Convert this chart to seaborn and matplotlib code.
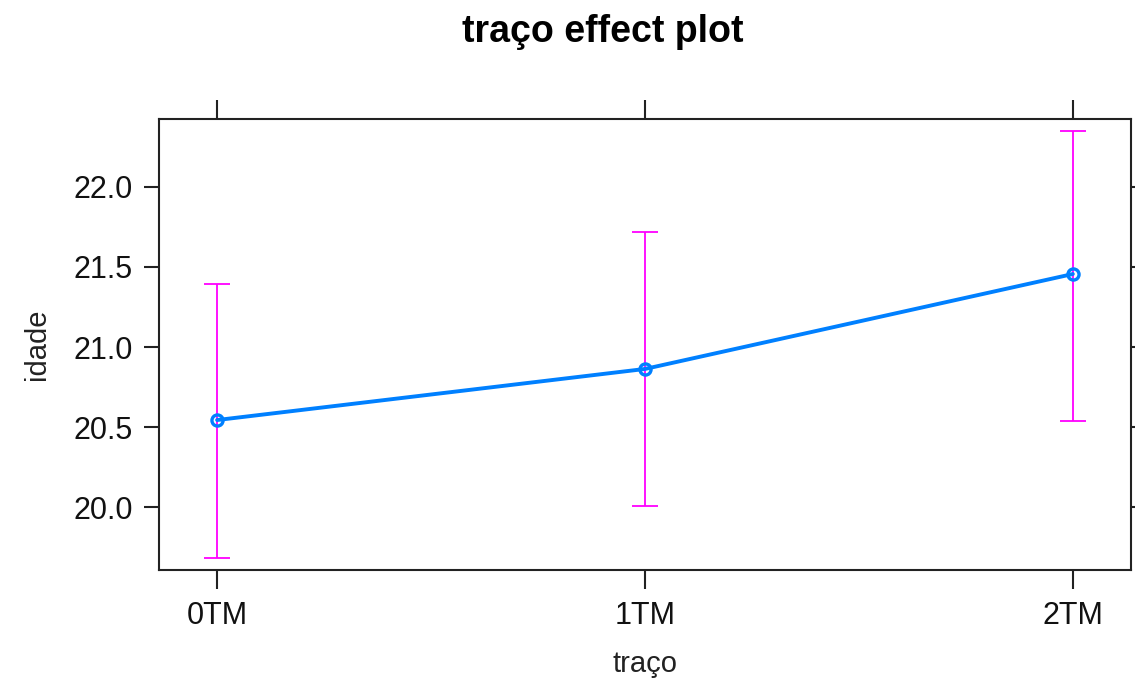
import matplotlib
matplotlib.use("Agg")
import matplotlib.pyplot as plt
import seaborn as sns
import pandas as pd

traco = ["0TM", "1TM", "2TM"]
fit = [20.544, 20.863, 21.456]
lower = [19.68, 20.01, 20.54]
upper = [21.394, 21.72, 22.35]

df = pd.DataFrame({"traco": traco, "fit": fit, "lower": lower, "upper": upper})
df["pos"] = range(len(df))

sns.set_style("ticks")
plt.rcParams["font.family"] = ["Liberation Sans", "DejaVu Sans"]

fig = plt.figure(figsize=(11.35, 6.86), dpi=100)
ax = fig.add_axes([0.140, 0.169, 0.8565, 0.6575])

# confidence bars
ax.errorbar(df["pos"], df["fit"],
            yerr=[df["fit"] - df["lower"], df["upper"] - df["fit"]],
            fmt="none", ecolor="#FF00FF", elinewidth=1.3, capsize=9.7, capthick=1.3)

sns.lineplot(data=df, x="pos", y="fit", ax=ax, color="#0080FF", linewidth=2.8,
             marker="o", markersize=8, markerfacecolor="none",
             markeredgecolor="#0080FF", markeredgewidth=2.4)

ax.set_xlim(-0.136, 2.136)
ax.set_ylim(19.607, 22.424)
ax.set_xticks(df["pos"])
ax.set_xticklabels(traco)
ax.set_yticks([20.0, 20.5, 21.0, 21.5, 22.0])
ax.set_yticklabels(["20.0", "20.5", "21.0", "21.5", "22.0"])

ax.tick_params(axis="both", direction="out", length=11, width=1.5, colors="#222222",
               labelsize=22, labelcolor="#111111", pad=8)
ax.tick_params(top=True, right=True, labeltop=False, labelright=False)
ax.tick_params(axis="x", length=14)
for s in ax.spines.values():
    s.set_visible(True)
    s.set_linewidth(1.5)
    s.set_color("#222222")

ax.set_xlabel("traço", fontsize=21, color="#222222", labelpad=14)
ax.set_ylabel("idade", fontsize=21, color="#222222", labelpad=16)
fig.text(0.531, 0.953, "traço effect plot", fontsize=27, fontweight="bold",
         ha="center", va="center", color="#000000")

fig.savefig("out.png", dpi=100)
